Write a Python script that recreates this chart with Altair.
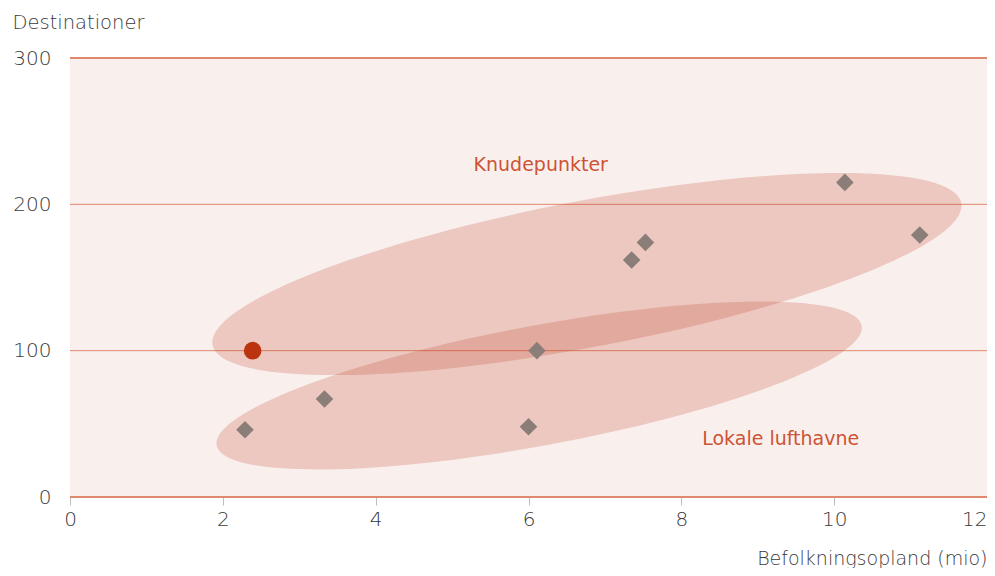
import altair as alt
import pandas as pd

# --- data ---
airport_x = [2.29, 3.33, 6.00, 6.11, 7.35, 7.53, 10.14, 11.12]
airport_y = [46, 67, 48, 100, 162, 174, 215, 179]
home_x = [2.39]
home_y = [100]

grid_values = [0, 100, 200, 300]
x_ticks = [0, 2, 4, 6, 8, 10, 12]

group_names = ["Knudepunkter", "Lokale lufthavne"]
group_center_x = [6.765, 6.14]
group_center_y = [152.4, 76.2]
group_label_x = [6.16, 9.30]
group_label_y = [227, 39.6]
# ellipse shape (pixel half-length, minor/major ratio, rotation in degrees clockwise)
ell_half_len = [381, 328]
ell_ratio = [0.192, 0.183]
ell_angle = [349.25, 349.5]

FONT = "DejaVu Sans"
AXIS_COLOR = "#3a3a3a"
GRID_COLOR = "#e0886d"
LABEL_COLOR = "#cc5334"

W, H = 917, 439
xs = alt.Scale(domain=[0, 12], nice=False, zero=False)
ys = alt.Scale(domain=[0, 300], nice=False)


def ellipse_path(r):
    k = 0.5523
    return (f"M-1,0C-1,{-r*k:.4f} {-k},{-r:.4f} 0,{-r:.4f}"
            f"C{k},{-r:.4f} 1,{-r*k:.4f} 1,0"
            f"C1,{r*k:.4f} {k},{r:.4f} 0,{r:.4f}"
            f"C{-k},{r:.4f} -1,{r*k:.4f} -1,0Z")


pts = pd.DataFrame({"x": airport_x, "y": airport_y})
home = pd.DataFrame({"x": home_x, "y": home_y})
grid = pd.DataFrame({"v": grid_values})
groups = pd.DataFrame({"name": group_names, "cx": group_center_x, "cy": group_center_y,
                       "lx": group_label_x, "ly": group_label_y})

xaxis = alt.Axis(values=x_ticks, format="d", title="Befolkningsopland (mio)", grid=False,
                 domain=False, tickColor="#bdbdbd", tickSize=8, tickWidth=1, labelPadding=4,
                 labelAlign=alt.condition("datum.value == 12", alt.value("right"), alt.value("center")),
                 labelFontSize=20, labelColor=AXIS_COLOR, labelFont=FONT, labelFontWeight=300,
                 titleFont=FONT, titleFontSize=19, titleFontWeight=300, titleColor=AXIS_COLOR,
                 titleX=W, titleY=61, titleAlign="right", titleBaseline="middle")
yaxis = alt.Axis(values=grid_values, title="Destinationer", grid=False, domain=False, ticks=False,
                 labelPadding=19, labelFontSize=20, labelColor=AXIS_COLOR, labelFont=FONT,
                 labelFontWeight=300,
                 titleFont=FONT, titleFontSize=19.5, titleFontWeight=300, titleColor=AXIS_COLOR,
                 titleAngle=0, titleX=-58, titleY=-36, titleAlign="left", titleBaseline="middle")

rules = alt.Chart(grid).mark_rule(color=GRID_COLOR).encode(
    y=alt.Y("v:Q", scale=ys, axis=yaxis),
    strokeWidth=alt.condition("datum.v == 0 || datum.v == 300", alt.value(2), alt.value(1)),
)

ellipses = []
for i in range(2):
    e = alt.Chart(groups.iloc[[i]]).mark_point(
        shape=ellipse_path(ell_ratio[i]), filled=True, fill="#c1462a", fillOpacity=0.23,
        opacity=1, strokeWidth=0,
    ).encode(
        x=alt.X("cx:Q", scale=xs, axis=xaxis),
        y=alt.Y("cy:Q", scale=ys),
        size=alt.value((2 * ell_half_len[i]) ** 2),
        angle=alt.value(ell_angle[i]),
    )
    ellipses.append(e)

diamonds = alt.Chart(pts).mark_point(shape="diamond", filled=True, color="#8b7e79",
                                     opacity=1, size=310).encode(
    x=alt.X("x:Q", scale=xs), y=alt.Y("y:Q", scale=ys))

circle = alt.Chart(home).mark_point(shape="circle", filled=True, color="#b9340f",
                                    opacity=1, size=310).encode(
    x=alt.X("x:Q", scale=xs), y=alt.Y("y:Q", scale=ys))

labels = alt.Chart(groups).mark_text(font=FONT, fontSize=19, fontWeight="normal", color=LABEL_COLOR,
                                     align="center", baseline="middle").encode(
    x=alt.X("lx:Q", scale=xs), y=alt.Y("ly:Q", scale=ys), text="name:N")

chart = alt.layer(rules, *ellipses, diamonds, circle, labels).properties(
    width=W, height=H,
    autosize=alt.AutoSizeParams(type="none"),
    padding={"left": 62, "top": 50, "right": 0, "bottom": 71},
    background="white",
).configure_view(fill="#f9f0ee", stroke=None)

chart.save("out.html", embed_options={"renderer": "svg", "actions": False})
